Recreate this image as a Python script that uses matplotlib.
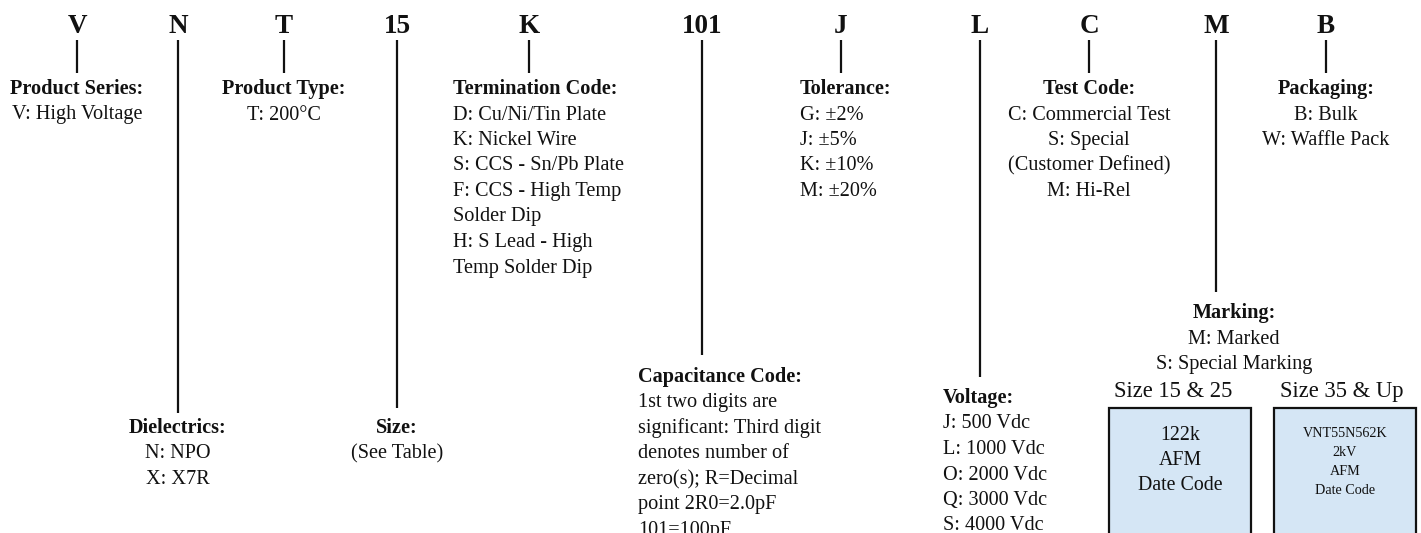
import matplotlib
matplotlib.use("Agg")
from matplotlib import pyplot as plt
from matplotlib import patches

plt.rcParams['font.family'] = ['Liberation Serif', 'DejaVu Serif']

# part number fields
codes = ['V', 'N', 'T', '15', 'K', '101', 'J', 'L', 'C', 'M', 'B']
titles = ['Product Series:', 'Dielectrics:', 'Product Type:', 'Size:',
          'Termination Code:', 'Capacitance Code:', 'Tolerance:', 'Voltage:',
          'Test Code:', 'Marking:', 'Packaging:']
options = [
    ['V: High Voltage'],
    ['N: NPO', 'X: X7R'],
    ['T: 200°C'],
    ['(See Table)'],
    ['D: Cu/Ni/Tin Plate', 'K: Nickel Wire', 'S: CCS - Sn/Pb Plate',
     'F: CCS - High Temp', 'Solder Dip', 'H: S Lead - High',
     'Temp Solder Dip'],
    ['1st two digits are', 'significant: Third digit', 'denotes number of',
     'zero(s); R=Decimal', 'point 2R0=2.0pF', '101=100pF'],
    ['G: ±2%', 'J: ±5%', 'K: ±10%', 'M: ±20%'],
    ['J: 500 Vdc', 'L: 1000 Vdc', 'O: 2000 Vdc', 'Q: 3000 Vdc', 'S: 4000 Vdc'],
    ['C: Commercial Test', 'S: Special', '(Customer Defined)', 'M: Hi-Rel'],
    ['M: Marked', 'S: Special Marking'],
    ['B: Bulk', 'W: Waffle Pack'],
]
mark_heads = ['Size 15 & 25', 'Size 35 & Up']
mark_lines = [['122k', 'AFM', 'Date Code'],
              ['VNT55N562K', '2kV', 'AFM', 'Date Code']]

# layout (pixel coordinates, y down)
code_x = [77, 178, 284, 397, 529, 702, 841, 980, 1089, 1216, 1326]
line_end = [73, 413, 73, 408, 73, 355, 73, 377, 73, 292, 73]
block_x = [77, 178, 284, 397, 453, 638, 800, 943, 1089, 1234, 1326]
block_y = [94, 433, 94, 433, 94, 382, 94, 403, 94, 318, 94]
block_ha = ['center', 'center', 'center', 'center', 'left', 'left', 'left',
            'left', 'center', 'center', 'center']
step = 25.5

box_left = [1109, 1274]
box_right = [1251, 1416]
box_top = 408
head_x = [1173, 1342]
text_sizes = [14.3, 10.2]
text_y0 = [440, 437]
text_step = [25, 19]

ink = '#111111'

fig = plt.figure(figsize=(14.21, 5.33), dpi=100)
ax = fig.add_axes([0, 0, 1, 1])
ax.set_xlim(0, 1421)
ax.set_ylim(533, 0)
ax.axis('off')

for i, code in enumerate(codes):
    x = code_x[i]
    ax.text(x, 33, code, ha='center', va='baseline', fontsize=19.5,
            fontweight='bold', color=ink)
    ax.plot([x, x], [40, line_end[i]], color=ink, lw=1.6,
            solid_capstyle='butt')
    y = block_y[i]
    ax.text(block_x[i], y, titles[i], ha=block_ha[i], va='baseline',
            fontsize=14.6, fontweight='bold', color=ink)
    for j, s in enumerate(options[i]):
        ax.text(block_x[i], y + step * (j + 1), s, ha=block_ha[i],
                va='baseline', fontsize=14.6, color=ink)

for k in range(2):
    ax.text(head_x[k], 397, mark_heads[k], ha='center', va='baseline',
            fontsize=16.3, color=ink)
    w = box_right[k] - box_left[k]
    ax.add_patch(patches.Rectangle((box_left[k], box_top), w, 160,
                                   facecolor='#d5e6f5', edgecolor=ink,
                                   lw=1.6, clip_on=True))
    cx = (box_left[k] + box_right[k]) / 2
    for j, s in enumerate(mark_lines[k]):
        ax.text(cx, text_y0[k] + text_step[k] * j, s, ha='center',
                va='baseline', fontsize=text_sizes[k], color=ink)

fig.savefig('out.png', dpi=100)
